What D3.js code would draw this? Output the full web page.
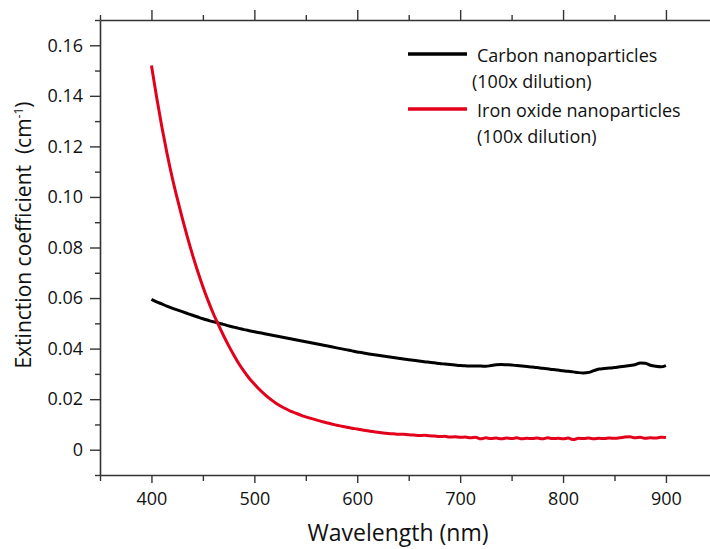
<!DOCTYPE html>
<html>
<head>
<meta charset="utf-8">
<script src="https://cdn.jsdelivr.net/npm/d3@7"></script>
<style>
  body { margin: 0; background: #fff; }
  text { font-family: "Open Sans", sans-serif; fill: #111; }
</style>
</head>
<body>
<script>
// wavelength in nm, 5 nm steps
var wavelengths = d3.range(400, 901, 5);

var carbon = [
  0.0595, 0.0585, 0.0577, 0.0568, 0.0560, 0.0553, 0.0546, 0.0539, 0.0532, 0.0525,
  0.0518, 0.0512, 0.0506, 0.0501, 0.0496, 0.0490, 0.0485, 0.0480, 0.0475, 0.0471,
  0.0467, 0.0463, 0.0459, 0.0455, 0.0451, 0.0447, 0.0443, 0.0439, 0.0435, 0.0431,
  0.0427, 0.0423, 0.0419, 0.0415, 0.0411, 0.0407, 0.0403, 0.0399, 0.0395, 0.0391,
  0.0387, 0.0384, 0.0380, 0.0377, 0.0374, 0.0371, 0.0368, 0.0365, 0.0362, 0.0359,
  0.0356, 0.0354, 0.0351, 0.0348, 0.0346, 0.0344, 0.0341, 0.0339, 0.0337, 0.0335,
  0.0333, 0.0332, 0.0331, 0.0331, 0.0331, 0.0330, 0.0333, 0.0336, 0.0337, 0.0336,
  0.0335, 0.0333, 0.0331, 0.0329, 0.0327, 0.0325, 0.0322, 0.0320, 0.0317, 0.0315,
  0.0312, 0.0310, 0.0308, 0.0305, 0.0304, 0.0306, 0.0313, 0.0319, 0.0321, 0.0323,
  0.0325, 0.0328, 0.0330, 0.0333, 0.0336, 0.0343, 0.0342, 0.0334, 0.0330, 0.0328,
  0.0333
];

var ironOxide = [
  0.1520, 0.1395, 0.1280, 0.1175, 0.1080, 0.0995, 0.0915, 0.0840, 0.0770, 0.0705,
  0.0645, 0.0590, 0.0540, 0.0495, 0.0452, 0.0412, 0.0375, 0.0340, 0.0310, 0.0283,
  0.0260, 0.0238, 0.0219, 0.0202, 0.0187, 0.0174, 0.0163, 0.0153, 0.0145, 0.0137,
  0.0130, 0.0124, 0.0118, 0.0112, 0.0107, 0.0102, 0.0097, 0.0093, 0.0089, 0.0085,
  0.0082, 0.0078, 0.0075, 0.0072, 0.0069, 0.0066, 0.0064, 0.0063, 0.0061, 0.0061,
  0.0059, 0.0058, 0.0056, 0.0057, 0.0055, 0.0054, 0.0052, 0.0053, 0.0050, 0.0051,
  0.0049, 0.0050, 0.0047, 0.0049, 0.0043, 0.0047, 0.0044, 0.0046, 0.0043, 0.0046,
  0.0044, 0.0047, 0.0043, 0.0045, 0.0044, 0.0046, 0.0043, 0.0047, 0.0044, 0.0045,
  0.0043, 0.0046, 0.0040, 0.0045, 0.0044, 0.0046, 0.0043, 0.0045, 0.0044, 0.0046,
  0.0045, 0.0047, 0.0050, 0.0051, 0.0047, 0.0049, 0.0045, 0.0047, 0.0046, 0.0049,
  0.0048
];

var seriesNames = ["Carbon nanoparticles", "Iron oxide nanoparticles"];
var seriesNotes = ["(100x dilution)", "(100x dilution)"];
var seriesColors = ["#000000", "#e3001b"];

var xMajor = [400, 500, 600, 700, 800, 900];
var xMinor = [350, 450, 550, 650, 750, 850, 950];
var yMajor = [0, 0.02, 0.04, 0.06, 0.08, 0.10, 0.12, 0.14, 0.16];
var yMinor = [-0.01, 0.01, 0.03, 0.05, 0.07, 0.09, 0.11, 0.13, 0.15, 0.17];

var w = 710, h = 549;

var svg = d3.select("body")
  .append("svg")
  .attr("width", w)
  .attr("height", h);

var x = d3.scaleLinear().domain([350, 950]).range([100, 717.4]);
var y = d3.scaleLinear().domain([-0.01, 0.17]).range([475, 20]);

var axisColor = "#333";

function styleAxis(g) {
  g.selectAll("path").attr("stroke", axisColor).attr("stroke-width", 1.6);
  g.selectAll("line").attr("stroke", axisColor).attr("stroke-width", 1.4);
}

// bottom axis
var bottomAxis = svg.append("g").attr("transform", "translate(0,475)");
bottomAxis.call(d3.axisBottom(x).tickValues(xMajor).tickSize(8).tickPadding(9).tickSizeOuter(0))
  .call(styleAxis);
bottomAxis.selectAll("text").attr("font-size", 18).attr("font-family", "Open Sans");
bottomAxis.append("g").call(d3.axisBottom(x).tickValues(xMinor).tickSize(6).tickFormat("").tickSizeOuter(0))
  .call(styleAxis).select("path").remove();

// top axis
var topAxis = svg.append("g").attr("transform", "translate(0,20)");
topAxis.call(d3.axisTop(x).tickValues(xMajor).tickSize(10).tickFormat("").tickSizeOuter(0)).call(styleAxis);
topAxis.append("g").call(d3.axisTop(x).tickValues(xMinor).tickSize(5).tickFormat("").tickSizeOuter(0))
  .call(styleAxis).select("path").remove();

// left axis
var leftAxis = svg.append("g").attr("transform", "translate(100,0)");
leftAxis.call(d3.axisLeft(y).tickValues(yMajor).tickSize(10).tickPadding(7).tickSizeOuter(0)
    .tickFormat(d => d === 0 ? "0" : d3.format(".2f")(d)))
  .call(styleAxis);
leftAxis.selectAll("text").attr("font-size", 18).attr("font-family", "Open Sans");
leftAxis.append("g").call(d3.axisLeft(y).tickValues(yMinor).tickSize(5).tickFormat("").tickSizeOuter(0))
  .call(styleAxis).select("path").remove();

// right axis (mostly outside the frame)
svg.append("g").attr("transform", "translate(717.4,0)")
  .call(d3.axisRight(y).tickValues([]).tickSizeOuter(0)).call(styleAxis);

// lines
var line = d3.line()
  .x((d, i) => x(wavelengths[i]))
  .y(d => y(d))
  .curve(d3.curveMonotoneX);

[carbon, ironOxide].forEach(function (vals, k) {
  svg.append("path")
    .datum(vals)
    .attr("fill", "none")
    .attr("stroke", seriesColors[k])
    .attr("stroke-width", 3)
    .attr("stroke-linejoin", "round")
    .attr("d", line);
});

// legend
var legend = svg.append("g");
var legendRows = [54, 109];
var noteX = [472, 477];
seriesNames.forEach(function (name, k) {
  var ly = legendRows[k];
  legend.append("line")
    .attr("x1", 408).attr("x2", 467)
    .attr("y1", ly).attr("y2", ly)
    .attr("stroke", seriesColors[k])
    .attr("stroke-width", 3.5);
  legend.append("text")
    .attr("x", 477).attr("y", ly + 8)
    .attr("font-size", 18)
    .text(name);
  legend.append("text")
    .attr("x", noteX[k]).attr("y", ly + 34)
    .attr("font-size", 18)
    .text(seriesNotes[k]);
});

// axis titles
svg.append("text")
  .attr("x", 398).attr("y", 541)
  .attr("text-anchor", "middle")
  .attr("font-size", 23)
  .text("Wavelength (nm)");

var yt = svg.append("text")
  .attr("transform", "translate(31,235) rotate(-90)")
  .attr("text-anchor", "middle")
  .attr("font-size", 21)
  .style("white-space", "pre");
yt.append("tspan").text("Extinction coefficient  (cm");
yt.append("tspan").attr("font-size", 12).attr("dy", -8).text("-1");
yt.append("tspan").attr("dy", 8).text(")");
</script>
</body>
</html>
